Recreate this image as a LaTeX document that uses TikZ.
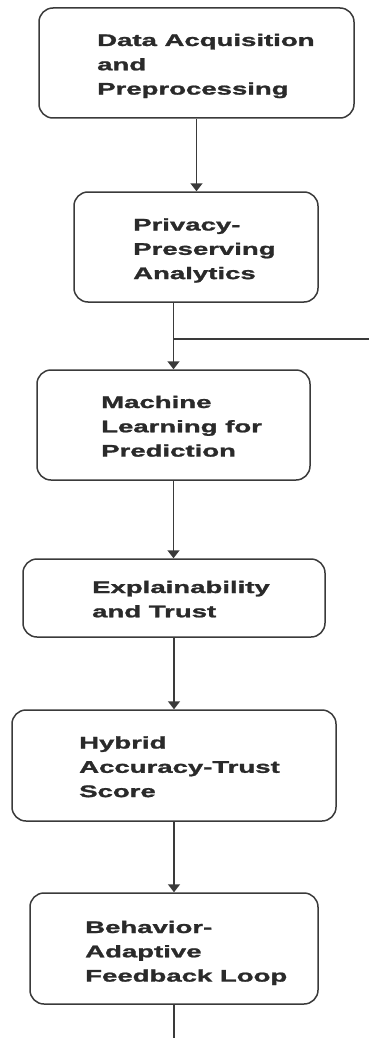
\documentclass[tikz,border=0pt]{standalone}
\usepackage{graphicx}
\usepackage{fontspec}
\setmainfont{Liberation Sans}
\newfontface\lblface{Liberation Sans Bold}[FakeBold=1.2]
\usetikzlibrary{arrows.meta}
\definecolor{linec}{HTML}{3A3A3A}
\definecolor{textc}{HTML}{2A2A2A}
\newcommand{\stxt}[1]{\scalebox{1.64}[1]{\fontsize{16.8}{24.3}\lblface\begin{tabular}[t]{@{}l@{}}#1\end{tabular}}}
\begin{document}
\begin{tikzpicture}[x=1pt,y=-1pt,
  box/.style={draw=linec, line width=1.5pt, rounded corners=14pt, inner sep=0pt},
  lbl/.style={anchor=base west, inner sep=0pt, text=textc},
  conn/.style={draw=linec, line width=1.6pt},
  arr/.style={conn, -{Triangle[width=12pt,length=8pt]}}]
\useasboundingbox (0,0) rectangle (369,1038);
% boxes
\node[box, minimum width=315pt, minimum height=110pt] (b1) at (196.5,63) {};
\node[box, minimum width=244pt, minimum height=110pt] (b2) at (196,247) {};
\node[box, minimum width=273pt, minimum height=110pt] (b3) at (173.5,425) {};
\node[box, minimum width=302pt, minimum height=78pt] (b4) at (174,598) {};
\node[box, minimum width=324pt, minimum height=111pt] (b5) at (174,765.5) {};
\node[box, minimum width=288pt, minimum height=111pt] (b6) at (174,948.5) {};
% labels
\node[lbl] (t1) at (97,46) {\stxt{Data Acquisition\\and\\Preprocessing}};
\node[lbl] (t2) at (133,230.5) {\stxt{Privacy-\\Preserving\\Analytics}};
\node[lbl] (t3) at (101,408) {\stxt{Machine\\Learning for\\Prediction}};
\node[lbl] (t4) at (92,593) {\stxt{Explainability\\and Trust}};
\node[lbl] (t5) at (79,748.5) {\stxt{Hybrid\\Accuracy-Trust\\Score}};
\node[lbl] (t6) at (85,933) {\stxt{Behavior-\\Adaptive\\Feedback Loop}};
% connectors
\draw[arr] (b1.south) -- (b1.south |- b2.north);
\draw[arr] (b3.north |- b2.south) -- (b3.north);
\coordinate (j) at (b3.north |- 0,339);
\coordinate (e) at (369,339);
\draw[conn] (j) -- (e);
\draw[arr] (b3.south) -- (b3.south |- b4.north);
\draw[arr] (b4.south) -- (b4.south |- b5.north);
\draw[arr] (b5.south) -- (b5.south |- b6.north);
\coordinate (end) at (b6.south |- 0,1038);
\draw[conn] (b6.south) -- (end);
\end{tikzpicture}
\end{document}
